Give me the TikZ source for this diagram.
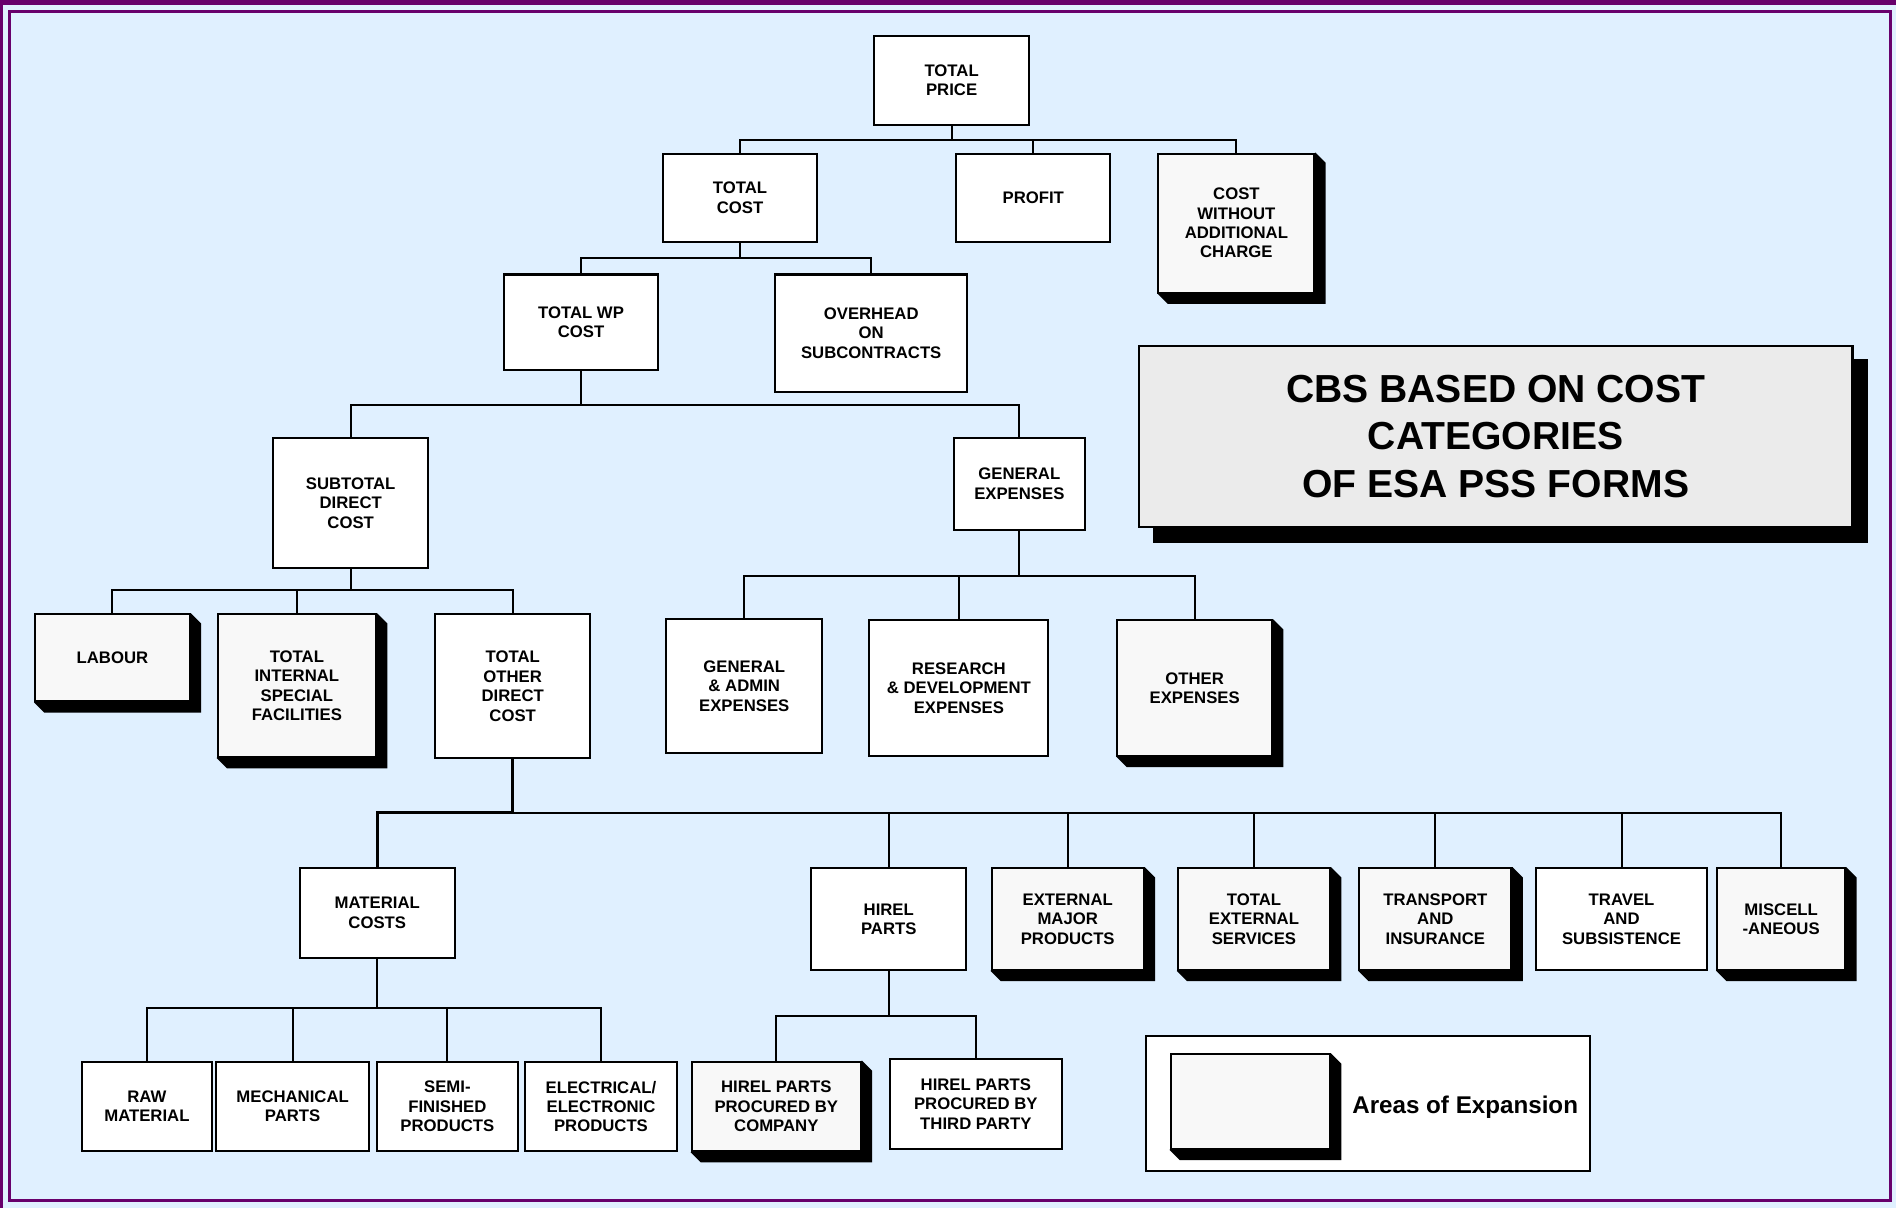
\documentclass[tikz,border=0pt]{standalone}
\usepackage{fontspec}
\setmainfont{Liberation Sans}
\usetikzlibrary{calc}

\definecolor{paper}{RGB}{224,240,255}
\definecolor{framecol}{RGB}{104,0,108}
\definecolor{boxgrey}{RGB}{248,248,248}
\definecolor{titlegrey}{RGB}{235,235,235}

\pgfdeclarelayer{back}
\pgfdeclarelayer{shade}
\pgfsetlayers{back,shade,main}

\tikzset{
  cbox/.style={draw=black, line width=1pt, fill=white, align=center, inner sep=0pt,
    font=\fontsize{8.3}{9.6}\selectfont\bfseries},
  xbox/.style={cbox, fill=boxgrey},
  titlebox/.style={cbox, fill=titlegrey, font=\fontsize{19.4}{23.4}\selectfont\bfseries},
  link/.style={line width=1pt, line cap=rect, line join=miter},
  buslink/.style={link, line width=1.3pt},
}

% box from its corners: name, style, x0, y0, x1, y1, text
\newcommand\cbsbox[7]{%
  \node[#2, minimum width={(#5-#3)*0.6pt}, minimum height={(#6-#4)*0.6pt}]
    (#1) at ({(#3+#5)/2},{(#4+#6)/2}) {#7};}

% chamfered black extrusion to the lower right of a node
\newcommand\chamfer[1]{%
  \begin{pgfonlayer}{shade}
    \fill[black] (#1.north east) -- ($(#1.north east)+(8.5,8.5)$)
      -- ($(#1.south east)+(8.5,8.5)$) -- ($(#1.south west)+(8.5,8.5)$)
      -- (#1.south west) -- cycle;
  \end{pgfonlayer}}

\begin{document}
\begin{tikzpicture}[x=0.6pt, y=-0.6pt]
  \useasboundingbox (0,0) rectangle (1568,999);
  \begin{pgfonlayer}{back}
    \fill[paper] (0,0) rectangle (1568,999);
    \draw[framecol, line width=2.4pt] (0,2) -- (1568,2);
    \draw[framecol, line width=1.4pt] (1.2,0) -- (1.2,999);
    \draw[framecol, line width=1.5pt] (7.5,9.5) rectangle (1563.5,992.5);
    % legend frame sits beneath the sample box and its shadow
    \cbsbox{legend}{cbox}{948}{857}{1315}{968}{}
  \end{pgfonlayer}

  % top levels
  \cbsbox{tp}{cbox}{723}{30}{851}{103}{TOTAL\\PRICE}
  \cbsbox{tc}{cbox}{548}{127}{676}{200}{TOTAL\\COST}
  \cbsbox{pr}{cbox}{791}{127}{918}{200}{PROFIT}
  \cbsbox{cw}{xbox}{958}{127}{1087}{242}{COST\\WITHOUT\\ADDITIONAL\\CHARGE}
  \cbsbox{twp}{cbox}{417}{227}{544}{306}{TOTAL WP\\COST}
  \cbsbox{ov}{cbox}{641}{227}{800}{324}{OVERHEAD\\ON\\SUBCONTRACTS}
  \cbsbox{sdc}{cbox}{226}{362}{354}{470}{SUBTOTAL\\DIRECT\\COST}
  \cbsbox{ge}{cbox}{789}{362}{897}{438}{GENERAL\\EXPENSES}

  % direct cost and general expenses breakdown
  \cbsbox{lab}{xbox}{29}{508}{157}{580}{LABOUR}
  \cbsbox{tisf}{xbox}{180}{508}{311}{626}{TOTAL\\INTERNAL\\SPECIAL\\FACILITIES}
  \cbsbox{todc}{cbox}{360}{508}{488}{627}{TOTAL\\OTHER\\DIRECT\\COST}
  \cbsbox{gae}{cbox}{551}{512}{680}{623}{GENERAL\\\& ADMIN\\EXPENSES}
  \cbsbox{rde}{cbox}{719}{513}{867}{625}{RESEARCH\\\& DEVELOPMENT\\EXPENSES}
  \cbsbox{oe}{xbox}{924}{513}{1052}{625}{OTHER\\EXPENSES}

  % other direct cost breakdown
  \cbsbox{mc}{cbox}{248}{718}{376}{792}{MATERIAL\\COSTS}
  \cbsbox{hp}{cbox}{671}{718}{799}{802}{HIREL\\PARTS}
  \cbsbox{emp}{xbox}{820}{718}{946}{802}{EXTERNAL\\MAJOR\\PRODUCTS}
  \cbsbox{tes}{xbox}{974}{718}{1100}{802}{TOTAL\\EXTERNAL\\SERVICES}
  \cbsbox{ti}{xbox}{1124}{718}{1250}{802}{TRANSPORT\\AND\\INSURANCE}
  \cbsbox{ts}{cbox}{1270}{718}{1412}{802}{TRAVEL\\AND\\SUBSISTENCE}
  \cbsbox{mi}{xbox}{1420}{718}{1526}{802}{MISCELL\\-ANEOUS}

  % lowest level
  \cbsbox{rm}{cbox}{68}{878}{175}{952}{RAW\\MATERIAL}
  \cbsbox{mp}{cbox}{179}{878}{305}{952}{MECHANICAL\\PARTS}
  \cbsbox{sf}{cbox}{312}{878}{428}{952}{SEMI-\\FINISHED\\PRODUCTS}
  \cbsbox{ee}{cbox}{434}{878}{560}{952}{ELECTRICAL/\\ELECTRONIC\\PRODUCTS}
  \cbsbox{hpc}{xbox}{572}{878}{712}{952}{HIREL PARTS\\PROCURED BY\\COMPANY}
  \cbsbox{hpt}{cbox}{736}{876}{878}{950}{HIREL PARTS\\PROCURED BY\\THIRD PARTY}

  % title
  \cbsbox{title}{titlebox}{942}{286}{1532}{436}{CBS BASED ON COST\\CATEGORIES\\OF ESA PSS FORMS}
  \begin{pgfonlayer}{shade}
    \fill[black] ($(title.north west)+(12,12)$) rectangle ($(title.south east)+(12,12)$);
  \end{pgfonlayer}

  % legend contents
  \cbsbox{legsample}{xbox}{968}{872}{1100}{950}{}
  \node[anchor=west, inner sep=0pt, font=\fontsize{12}{14}\selectfont\bfseries]
    (legtext) at (1118,916) {Areas of Expansion};

  % extruded shadows
  \foreach \n in {cw,lab,tisf,oe,emp,tes,ti,mi,hpc,legsample} {\chamfer{\n}}

  % connectors
  \coordinate (b1) at (tp.south |- 0,116);
  \draw[link] (tp.south) -- (b1);
  \foreach \c in {tc,pr,cw} \draw[link] (b1) -| (\c.north);

  \coordinate (b2) at (tc.south |- 0,213);
  \draw[link] (tc.south) -- (b2);
  \foreach \c in {twp,ov} \draw[link] (b2) -| (\c.north);

  \coordinate (b3) at (twp.south |- 0,335);
  \draw[link] (twp.south) -- (b3);
  \foreach \c in {sdc,ge} \draw[link] (b3) -| (\c.north);

  \coordinate (b4) at (sdc.south |- 0,488);
  \draw[link] (sdc.south) -- (b4);
  \foreach \c in {lab,tisf,todc} \draw[link] (b4) -| (\c.north);

  \coordinate (b5) at (ge.south |- 0,476);
  \draw[link] (ge.south) -- (b5);
  \foreach \c in {gae,rde,oe} \draw[link] (b5) -| (\c.north);

  \coordinate (b6) at (todc.south |- 0,672);
  \draw[buslink] (todc.south) -- (b6);
  \draw[buslink] (b6) -| (mc.north);
  \foreach \c in {hp,emp,tes,ti,ts,mi} \draw[link] (b6) -| (\c.north);

  \coordinate (b7) at (mc.south |- 0,834);
  \draw[link] (mc.south) -- (b7);
  \foreach \c in {rm,mp,sf,ee} \draw[link] (b7) -| (\c.north);

  \coordinate (b8) at (hp.south |- 0,840);
  \draw[link] (hp.south) -- (b8);
  \foreach \c in {hpc,hpt} \draw[link] (b8) -| (\c.north);
\end{tikzpicture}
\end{document}
